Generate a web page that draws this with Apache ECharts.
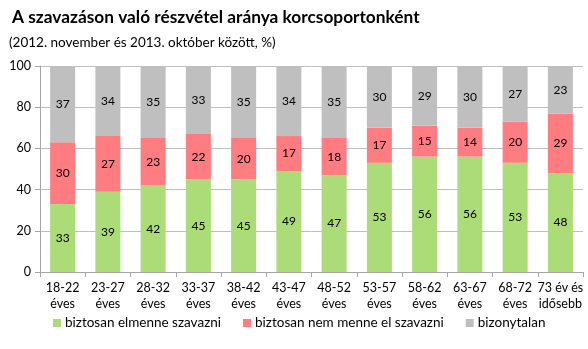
<!DOCTYPE html>
<html>
<head>
<meta charset="utf-8">
<script src="https://cdn.jsdelivr.net/npm/echarts@6/dist/echarts.min.js"></script>
<style>
html,body{margin:0;padding:0;background:#fff;}
#c{width:588px;height:349px;}
</style>
</head>
<body>
<div id="c"></div>
<script>
const categories = ['18-22\néves','23-27\néves','28-32\néves','33-37\néves','38-42\néves','43-47\néves','48-52\néves','53-57\néves','58-62\néves','63-67\néves','68-72\néves','73 év és\nidősebb'];
const willVote = [33,39,42,45,45,49,47,53,56,56,53,48];
const wontVote = [30,27,23,22,20,17,18,17,15,14,20,29];
const undecided = [37,34,35,33,35,34,35,30,29,30,27,23];
const yTicks = [0,20,40,60,80,100];

const FONT = 'Lato, "Open Sans", sans-serif';
const chart = echarts.init(document.getElementById('c'), null, {renderer:'canvas'});

function bar(name, data, color){
  return {
    name, type:'bar', stack:'s', data, barWidth:25,
    itemStyle:{color},
    label:{show:true, position:'inside', color:'#000', fontSize:12, fontFamily:FONT}
  };
}

chart.setOption({
  animation:false,
  title:[
    {text:'A szavazáson való részvétel aránya korcsoportonként', left:7, top:4,
     textStyle:{fontSize:17.3, fontWeight:'bold', color:'#000', fontFamily:FONT}},
    {text:'(2012. november és 2013. október között, %)', left:4, top:31,
     textStyle:{fontSize:13.5, fontWeight:'normal', color:'#000', fontFamily:FONT}}
  ],
  grid:{left:40, right:5, top:66, bottom:77},
  legend:{
    bottom:14, left:48, itemGap:22, itemWidth:8, itemHeight:8, icon:'rect',
    textStyle:{fontSize:13.5, color:'#000', fontFamily:FONT, padding:[0,0,0,-1]},
    data:['biztosan elmenne szavazni','biztosan nem menne el szavazni','bizonytalan']
  },
  xAxis:{
    type:'category', data:categories,
    axisLine:{lineStyle:{color:'#a6a6a6'}},
    axisTick:{show:true, alignWithLabel:false, length:5, lineStyle:{color:'#a6a6a6'}},
    axisLabel:{color:'#000', fontSize:12.5, fontFamily:FONT, lineHeight:16, margin:8, interval:0}
  },
  yAxis:{
    type:'value', min:0, max:100, interval:20,
    axisLine:{show:true, lineStyle:{color:'#a6a6a6'}},
    axisTick:{show:true, length:5, lineStyle:{color:'#a6a6a6'}},
    splitLine:{lineStyle:{color:'#bfbfbf'}},
    axisLabel:{color:'#000', fontSize:12.5, fontFamily:FONT, margin:9,
      formatter:v => yTicks.includes(v) ? String(v) : ''}
  },
  series:[
    bar('biztosan elmenne szavazni', willVote, '#abdc78'),
    bar('biztosan nem menne el szavazni', wontVote, '#ff7c80'),
    bar('bizonytalan', undecided, '#bfbfbf')
  ]
});
</script>
</body>
</html>
